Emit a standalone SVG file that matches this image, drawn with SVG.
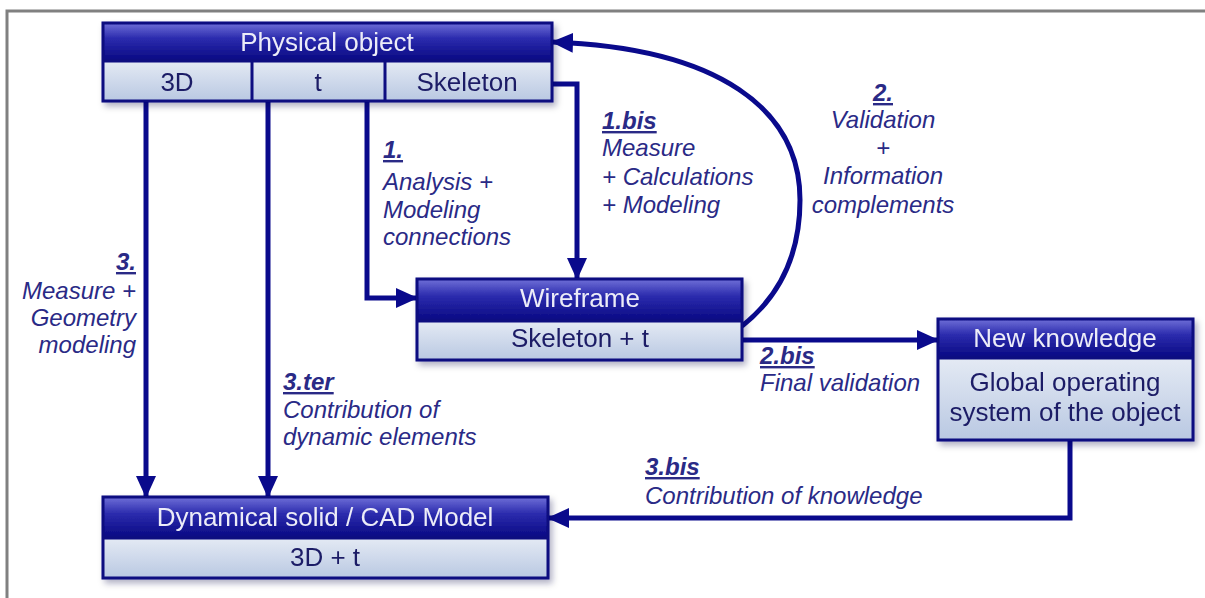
<svg xmlns="http://www.w3.org/2000/svg" width="1205" height="598" viewBox="0 0 1205 598">
<defs>
  <linearGradient id="hdr" x1="0" y1="0" x2="0" y2="1">
    <stop offset="0" stop-color="#7070d8"/>
    <stop offset="0.4" stop-color="#2c2cae"/>
    <stop offset="1" stop-color="#080882"/>
  </linearGradient>
  <linearGradient id="sub" x1="0" y1="0" x2="0" y2="1">
    <stop offset="0" stop-color="#e4eaf4"/>
    <stop offset="1" stop-color="#b9c8e2"/>
  </linearGradient>
  <filter id="sh" x="-5%" y="-5%" width="115%" height="125%">
    <feDropShadow dx="3" dy="4" stdDeviation="3" flood-color="#000040" flood-opacity="0.3"/>
  </filter>
  <marker id="ah" markerUnits="userSpaceOnUse" markerWidth="22" markerHeight="20" refX="21" refY="10" orient="auto">
    <path d="M0,0 L22,10 L0,20 z" fill="#0a0a8c"/>
  </marker>
  <style>
    .box { stroke: #0a0a80; stroke-width: 3; }
    .h { fill: url(#hdr); }
    .s { fill: url(#sub); }
    .div { stroke: #0a0a80; stroke-width: 3; }
    .ht { font-family: "Liberation Sans", Arial, sans-serif; font-size: 26px; fill: #ececf8; text-anchor: middle; }
    .st { font-family: "Liberation Sans", Arial, sans-serif; font-size: 26px; fill: #1c1c66; text-anchor: middle; }
    .lb { font-family: "Liberation Sans", Arial, sans-serif; font-size: 24px; font-style: italic; fill: #2a2a86; }
    .n { font-weight: bold; text-decoration: underline; }
    .c { fill: none; stroke: #0a0a8c; stroke-width: 5; }
    .frame { fill: none; stroke: #808080; stroke-width: 3; }
  </style>
</defs>
<rect width="1205" height="598" fill="#ffffff"/>
<path class="frame" d="M7,598 V11 H1205"/>

<g id="connectors">
  <path class="c" d="M146,101 V497" marker-end="url(#ah)"/>
  <path class="c" d="M268,101 V497" marker-end="url(#ah)"/>
  <path class="c" d="M367,101 V298 H417" marker-end="url(#ah)"/>
  <path class="c" d="M552,84 H577 V279" marker-end="url(#ah)"/>
  <path class="c" d="M742,326 C775,300 800,260 800,200 C800,110 720,48 552,42" marker-end="url(#ah)"/>
  <path class="c" d="M742,340 H938" marker-end="url(#ah)"/>
  <path class="c" d="M1070,440 V518 H548" marker-end="url(#ah)"/>
</g>

<g id="physical-object" filter="url(#sh)">
  <rect class="h" x="103" y="23" width="449" height="38"/>
  <rect class="s" x="103" y="61" width="449" height="40"/>
  <rect class="box" x="103" y="23" width="449" height="78" fill="none"/>
  <line class="div" x1="103" y1="61" x2="552" y2="61"/>
  <line class="div" x1="252" y1="61" x2="252" y2="101"/>
  <line class="div" x1="385" y1="61" x2="385" y2="101"/>
  <text class="ht" x="327" y="51">Physical object</text>
  <text class="st" x="177" y="91">3D</text>
  <text class="st" x="318" y="91">t</text>
  <text class="st" x="467" y="91">Skeleton</text>
</g>

<g id="wireframe" filter="url(#sh)">
  <rect class="h" x="417" y="279" width="325" height="42"/>
  <rect class="s" x="417" y="321" width="325" height="39"/>
  <rect class="box" x="417" y="279" width="325" height="81" fill="none"/>
  <line class="div" x1="417" y1="321" x2="742" y2="321"/>
  <text class="ht" x="580" y="307">Wireframe</text>
  <text class="st" x="580" y="347">Skeleton + t</text>
</g>

<g id="new-knowledge" filter="url(#sh)">
  <rect class="h" x="938" y="319" width="255" height="39"/>
  <rect class="s" x="938" y="358" width="255" height="82"/>
  <rect class="box" x="938" y="319" width="255" height="121" fill="none"/>
  <line class="div" x1="938" y1="358" x2="1193" y2="358"/>
  <text class="ht" x="1065" y="347">New knowledge</text>
  <text class="st" x="1065" y="391">Global operating</text>
  <text class="st" x="1065" y="421">system of the object</text>
</g>

<g id="cad-model" filter="url(#sh)">
  <rect class="h" x="103" y="497" width="445" height="41"/>
  <rect class="s" x="103" y="538" width="445" height="40"/>
  <rect class="box" x="103" y="497" width="445" height="81" fill="none"/>
  <line class="div" x1="103" y1="538" x2="548" y2="538"/>
  <text class="ht" x="325" y="526">Dynamical solid / CAD Model</text>
  <text class="st" x="325" y="566">3D + t</text>
</g>

<g id="labels">
  <text class="lb"><tspan class="n" x="383" y="158">1.</tspan><tspan x="383" y="190">Analysis +</tspan><tspan x="383" y="218">Modeling</tspan><tspan x="383" y="245">connections</tspan></text>
  <text class="lb"><tspan class="n" x="602" y="129">1.bis</tspan><tspan x="602" y="156">Measure</tspan><tspan x="602" y="185">+ Calculations</tspan><tspan x="602" y="213">+ Modeling</tspan></text>
  <text class="lb" text-anchor="middle"><tspan class="n" x="883" y="101">2.</tspan><tspan x="883" y="128">Validation</tspan><tspan x="883" y="156">+</tspan><tspan x="883" y="184">Information</tspan><tspan x="883" y="213">complements</tspan></text>
  <text class="lb" text-anchor="end"><tspan class="n" x="136" y="270">3.</tspan><tspan x="136" y="299">Measure +</tspan><tspan x="136" y="326">Geometry</tspan><tspan x="136" y="353">modeling</tspan></text>
  <text class="lb"><tspan class="n" x="283" y="390">3.ter</tspan><tspan x="283" y="418">Contribution of</tspan><tspan x="283" y="445">dynamic elements</tspan></text>
  <text class="lb"><tspan class="n" x="760" y="364">2.bis</tspan><tspan x="760" y="391">Final validation</tspan></text>
  <text class="lb"><tspan class="n" x="645" y="475">3.bis</tspan><tspan x="645" y="504">Contribution of knowledge</tspan></text>
</g>
</svg>
